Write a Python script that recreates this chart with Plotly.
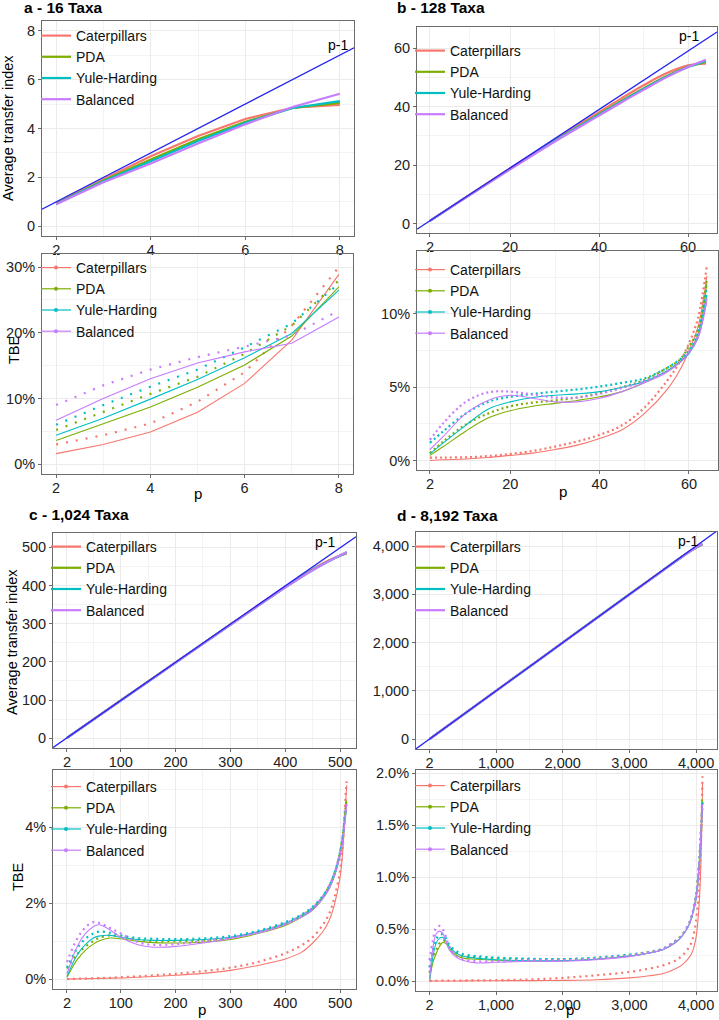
import plotly.graph_objects as go

W, H = 719, 1020
FONT = "Liberation Sans, Arial, sans-serif"
NAMES = ["Caterpillars", "PDA", "Yule-Harding", "Balanced"]
COLORS = ["#F8766D", "#7CAE00", "#00BFC4", "#C77CFF"]

# ---------------- a - 16 taxa ----------------
P_A = [2, 3, 4, 5, 6, 7, 8]
ATI_A_CAT = [0.93, 1.92, 2.86, 3.69, 4.39, 4.85, 4.97]
ATI_A_PDA = [0.92, 1.87, 2.73, 3.56, 4.27, 4.84, 5.05]
ATI_A_YH = [0.91, 1.84, 2.66, 3.49, 4.23, 4.84, 5.12]
ATI_A_BAL = [0.90, 1.80, 2.57, 3.39, 4.17, 4.88, 5.42]
TBE_A_CAT = [1.6, 3.0, 4.9, 7.9, 12.3, 18.9, 28.9]
TBE_A_PDA = [3.6, 6.1, 8.7, 11.7, 15.1, 19.5, 27.0]
TBE_A_YH = [4.4, 7.0, 9.9, 12.9, 16.2, 19.9, 26.5]
TBE_A_BAL = [6.7, 10.0, 13.0, 15.4, 17.1, 18.4, 22.4]
TBE2_A_CAT = [3.0, 4.4, 6.2, 9.5, 14.0, 21.1, 30.0]
TBE2_A_PDA = [5.2, 8.0, 10.7, 13.3, 16.8, 21.1, 28.0]
TBE2_A_YH = [6.0, 9.0, 11.8, 14.4, 17.8, 21.4, 27.5]
TBE2_A_BAL = [9.0, 12.0, 14.4, 16.3, 17.9, 19.6, 23.4]

# ---------------- b - 128 taxa ----------------
P_B_TOP = [2, 10, 20, 30, 40, 45, 50, 55, 60, 64]
ATI_B_CAT = [0.95, 8.95, 18.85, 28.6, 38.1, 42.8, 47.3, 51.3, 54.1, 54.7]
ATI_B_PDA = [0.94, 8.9, 18.7, 28.3, 37.4, 41.9, 46.2, 50.3, 53.6, 55.3]
ATI_B_YH = [0.94, 8.9, 18.65, 28.2, 37.2, 41.7, 46.0, 50.1, 53.5, 55.6]
ATI_B_BAL = [0.93, 8.85, 18.55, 28.0, 36.9, 41.4, 45.7, 49.9, 53.5, 56.0]
P_B = [2, 5, 10, 15, 20, 25, 30, 35, 40, 45, 50, 55, 58, 60, 62, 64]
TBE_B_CAT = [0.0, 0.05, 0.1, 0.2, 0.35, 0.5, 0.75, 1.05, 1.5, 2.1, 3.2, 4.8, 6.2, 7.5, 9.1, 12.6]
TBE_B_PDA = [0.35, 0.95, 2.0, 2.9, 3.4, 3.7, 3.9, 4.1, 4.35, 4.7, 5.3, 6.1, 6.75, 7.4, 8.6, 12.1]
TBE_B_YH = [0.45, 1.2, 2.4, 3.5, 4.0, 4.3, 4.45, 4.55, 4.7, 5.0, 5.4, 6.1, 6.7, 7.3, 8.35, 11.3]
TBE_B_BAL = [0.75, 1.65, 3.2, 4.1, 4.45, 4.25, 4.0, 4.0, 4.25, 4.7, 5.3, 6.0, 6.7, 7.4, 8.35, 10.9]
TBE2_B_CAT = [0.2, 0.2, 0.22, 0.3, 0.45, 0.65, 0.95, 1.3, 1.75, 2.4, 3.6, 5.4, 6.75, 8.0, 9.7, 13.3]
TBE2_B_PDA = [0.5, 1.3, 2.45, 3.2, 3.7, 3.95, 4.1, 4.3, 4.6, 5.0, 5.5, 6.3, 6.9, 7.8, 8.9, 12.4]
TBE2_B_YH = [1.2, 2.0, 3.2, 4.0, 4.35, 4.55, 4.7, 4.85, 5.05, 5.3, 5.6, 6.3, 6.9, 7.5, 8.7, 11.9]
TBE2_B_BAL = [1.4, 2.55, 4.0, 4.65, 4.7, 4.5, 4.3, 4.3, 4.55, 4.95, 5.4, 6.1, 6.75, 7.4, 8.45, 11.2]

# ---------------- c - 1,024 taxa ----------------
P_C_TOP = [2, 100, 200, 300, 400, 430, 460, 480, 500, 512]
ATI_C_CAT = [1, 99, 198.5, 298, 396.5, 425, 451, 466, 478, 484]
ATI_C_PDA = [1, 98.8, 198.2, 297.5, 395.5, 423.5, 449.5, 465, 478.5, 486]
ATI_C_YH = [1, 98.7, 198, 297.3, 395.2, 423, 449, 464.5, 478.5, 487]
ATI_C_BAL = [1, 98.5, 197.8, 297, 395, 422.5, 448.5, 464.5, 479, 488]
P_C = [2, 20, 35, 50, 60, 80, 100, 130, 160, 200, 250, 300, 350, 400, 430, 450, 470, 480, 490, 500, 505, 510, 512]
TBE_C_CAT = [0, 0.005, 0.01, 0.015, 0.02, 0.025, 0.03, 0.05, 0.07, 0.1, 0.15, 0.23, 0.36, 0.53, 0.71, 0.95, 1.28, 1.54, 1.98, 2.68, 3.4, 4.6, 5.1]
TBE_C_PDA = [0.05, 0.5, 0.75, 0.92, 1.0, 1.08, 1.06, 1.0, 0.96, 0.95, 0.97, 1.04, 1.2, 1.41, 1.63, 1.82, 2.15, 2.38, 2.73, 3.3, 3.74, 4.4, 4.7]
TBE_C_YH = [0.07, 0.62, 0.9, 1.08, 1.13, 1.15, 1.1, 1.04, 1.02, 1.02, 1.04, 1.1, 1.24, 1.46, 1.67, 1.85, 2.18, 2.4, 2.73, 3.27, 3.7, 4.3, 4.45]
TBE_C_BAL = [0.14, 0.84, 1.19, 1.38, 1.43, 1.3, 1.1, 0.91, 0.84, 0.86, 0.95, 1.07, 1.21, 1.43, 1.63, 1.82, 2.15, 2.38, 2.73, 3.25, 3.67, 4.3, 4.6]
TBE2_C_CAT = [0, 0.01, 0.015, 0.02, 0.025, 0.035, 0.05, 0.07, 0.1, 0.14, 0.21, 0.3, 0.45, 0.68, 0.89, 1.1, 1.46, 1.72, 2.16, 2.86, 3.56, 4.8, 5.2]
TBE2_C_PDA = [0.28, 0.65, 0.85, 1.0, 1.08, 1.15, 1.12, 1.05, 1.0, 1.0, 1.02, 1.08, 1.24, 1.45, 1.67, 1.87, 2.2, 2.45, 2.8, 3.35, 3.8, 4.5, 4.75]
TBE2_C_YH = [0.3, 0.8, 1.05, 1.2, 1.25, 1.22, 1.15, 1.08, 1.06, 1.05, 1.07, 1.13, 1.27, 1.5, 1.7, 1.9, 2.22, 2.45, 2.8, 3.35, 3.78, 4.4, 4.5]
TBE2_C_BAL = [0.45, 1.05, 1.35, 1.5, 1.48, 1.35, 1.2, 0.98, 0.9, 0.92, 1.0, 1.1, 1.24, 1.47, 1.68, 1.88, 2.2, 2.45, 2.8, 3.33, 3.75, 4.4, 4.6]

# ---------------- d - 8,192 taxa ----------------
P_D_TOP = [2, 1000, 2000, 3000, 3500, 3800, 3950, 4096]
ATI_D_CAT = [1, 999, 1998, 2996, 3493, 3788, 3925, 4030]
ATI_D_PDA = [1, 999, 1998, 2996, 3492, 3787, 3926, 4038]
ATI_D_YH = [1, 999, 1998, 2996, 3492, 3787, 3926, 4040]
ATI_D_BAL = [1, 998, 1997, 2995, 3491, 3786, 3927, 4045]
P_D = [2, 50, 100, 150, 200, 250, 300, 400, 500, 700, 1000, 1500, 2000, 2500, 3000, 3300, 3500, 3700, 3800, 3900, 3950, 4000, 4050, 4080, 4096]
TBE_D_CAT = [0, 0, 0, 0, 0, 0, 0, 0, 0.001, 0.002, 0.003, 0.004, 0.006, 0.012, 0.03, 0.05, 0.07, 0.12, 0.16, 0.23, 0.29, 0.42, 0.78, 1.32, 1.9]
TBE_D_PDA = [0, 0.17, 0.26, 0.33, 0.37, 0.36, 0.31, 0.25, 0.22, 0.21, 0.2, 0.19, 0.195, 0.21, 0.24, 0.27, 0.3, 0.375, 0.44, 0.55, 0.65, 0.81, 1.16, 1.51, 1.75]
TBE_D_YH = [0, 0.22, 0.36, 0.41, 0.42, 0.38, 0.33, 0.27, 0.24, 0.22, 0.205, 0.195, 0.195, 0.21, 0.24, 0.27, 0.3, 0.375, 0.44, 0.55, 0.65, 0.8, 1.15, 1.5, 1.72]
TBE_D_BAL = [0, 0.3, 0.45, 0.48, 0.46, 0.38, 0.3, 0.23, 0.2, 0.175, 0.18, 0.19, 0.19, 0.205, 0.235, 0.27, 0.3, 0.375, 0.44, 0.55, 0.65, 0.8, 1.15, 1.5, 1.7]
TBE2_D_CAT = [0, 0.001, 0.002, 0.003, 0.003, 0.004, 0.004, 0.005, 0.005, 0.006, 0.008, 0.015, 0.03, 0.055, 0.087, 0.12, 0.15, 0.2, 0.25, 0.33, 0.41, 0.58, 0.97, 1.48, 1.97]
TBE2_D_PDA = [0.08, 0.2, 0.29, 0.36, 0.39, 0.38, 0.33, 0.27, 0.24, 0.23, 0.22, 0.21, 0.21, 0.22, 0.25, 0.28, 0.31, 0.39, 0.45, 0.56, 0.66, 0.83, 1.18, 1.53, 1.75]
TBE2_D_YH = [0.13, 0.28, 0.4, 0.44, 0.45, 0.41, 0.35, 0.29, 0.26, 0.24, 0.225, 0.215, 0.21, 0.225, 0.255, 0.28, 0.31, 0.39, 0.45, 0.56, 0.66, 0.82, 1.17, 1.52, 1.72]
TBE2_D_BAL = [0.2, 0.38, 0.51, 0.53, 0.5, 0.42, 0.33, 0.25, 0.21, 0.19, 0.19, 0.2, 0.2, 0.215, 0.245, 0.28, 0.31, 0.39, 0.45, 0.56, 0.66, 0.82, 1.17, 1.52, 1.7]

# tick labels
XT_A = [2, 4, 6, 8]
YT_A_TOP = [0, 2, 4, 6, 8]
YT_A_BOT = [0, 10, 20, 30]
XT_B = [2, 20, 40, 60]
YT_B_TOP = [0, 20, 40, 60]
YT_B_BOT = [0, 5, 10]
XT_C = [2, 100, 200, 300, 400, 500]
YT_C_TOP = [0, 100, 200, 300, 400, 500]
YT_C_BOT = [0, 2, 4]
XT_D = [2, 1000, 2000, 3000, 4000]
XT_D_TEXT = ["2", "1,000", "2,000", "3,000", "4,000"]
YT_D_TOP = [0, 1000, 2000, 3000, 4000]
YT_D_TOP_TEXT = ["0", "1,000", "2,000", "3,000", "4,000"]
YT_D_BOT = [0, 0.5, 1.0, 1.5, 2.0]
YT_D_BOT_TEXT = ["0.0%", "0.5%", "1.0%", "1.5%", "2.0%"]

panels = [
    dict(kind="top", px=(42, 354), py=(21, 236), xr=[1.7, 8.3], yr=[-0.4, 8.4],
         xt=XT_A, xtt=None, yt=YT_A_TOP, ytt=None, xm=[3, 5, 7], ym=[1, 3, 5, 7],
         x=P_A, ys=[ATI_A_CAT, ATI_A_PDA, ATI_A_YH, ATI_A_BAL], shape="linear",
         leg=(36, 20)),
    dict(kind="bot", px=(42, 353), py=(254, 474), xr=[1.7, 8.3], yr=[-1.5, 32],
         xt=XT_A, xtt=None, yt=YT_A_BOT, ytt=[f"{v}%" for v in YT_A_BOT], xm=[3, 5, 7], ym=[5, 15, 25],
         x=P_A, ys=[TBE_A_CAT, TBE_A_PDA, TBE_A_YH, TBE_A_BAL],
         ys2=[TBE2_A_CAT, TBE2_A_PDA, TBE2_A_YH, TBE2_A_BAL], shape="linear", dash="2px,8px",
         leg=(36, 252)),
    dict(kind="top", px=(417, 717), py=(27, 233), xr=[-0.9, 66.5], yr=[-3.2, 67.2],
         xt=XT_B, xtt=None, yt=YT_B_TOP, ytt=None, xm=[11, 30, 50], ym=[10, 30, 50],
         x=P_B_TOP, ys=[ATI_B_CAT, ATI_B_PDA, ATI_B_YH, ATI_B_BAL], shape="spline",
         leg=(410, 35)),
    dict(kind="bot", px=(417, 718), py=(251, 470), xr=[-0.9, 66.5], yr=[-0.65, 14.3],
         xt=XT_B, xtt=None, yt=YT_B_BOT, ytt=[f"{v}%" for v in YT_B_BOT], xm=[11, 30, 50], ym=[2.5, 7.5, 12.5],
         x=P_B, ys=[TBE_B_CAT, TBE_B_PDA, TBE_B_YH, TBE_B_BAL],
         ys2=[TBE2_B_CAT, TBE2_B_PDA, TBE2_B_YH, TBE2_B_BAL], shape="spline", dash="2px,3px",
         leg=(410, 254)),
    dict(kind="top", px=(53, 356), py=(533, 748), xr=[-23.5, 529], yr=[-25.6, 537.6],
         xt=XT_C, xtt=None, yt=YT_C_TOP, ytt=None, xm=[51, 150, 250, 350, 450], ym=[50, 150, 250, 350, 450],
         x=P_C_TOP, ys=[ATI_C_CAT, ATI_C_PDA, ATI_C_YH, ATI_C_BAL], shape="spline",
         leg=(46, 531)),
    dict(kind="bot", px=(53, 356), py=(770, 989), xr=[-23.5, 529], yr=[-0.26, 5.5],
         xt=XT_C, xtt=None, yt=YT_C_BOT, ytt=[f"{v}%" for v in YT_C_BOT], xm=[51, 150, 250, 350, 450], ym=[1, 3, 5],
         x=P_C, ys=[TBE_C_CAT, TBE_C_PDA, TBE_C_YH, TBE_C_BAL],
         ys2=[TBE2_C_CAT, TBE2_C_PDA, TBE2_C_YH, TBE2_C_BAL], shape="spline", dash="2px,4px",
         leg=(46, 771)),
    dict(kind="top", px=(416, 717), py=(532, 749), xr=[-200, 4314], yr=[-205, 4290],
         xt=XT_D, xtt=XT_D_TEXT, yt=YT_D_TOP, ytt=YT_D_TOP_TEXT, xm=[501, 1500, 2500, 3500], ym=[500, 1500, 2500, 3500],
         x=P_D_TOP, ys=[ATI_D_CAT, ATI_D_PDA, ATI_D_YH, ATI_D_BAL], shape="spline",
         leg=(410, 531)),
    dict(kind="bot", px=(416, 717), py=(770, 991), xr=[-200, 4314], yr=[-0.096, 2.03],
         xt=XT_D, xtt=XT_D_TEXT, yt=YT_D_BOT, ytt=YT_D_BOT_TEXT, xm=[501, 1500, 2500, 3500], ym=[0.25, 0.75, 1.25, 1.75],
         x=P_D, ys=[TBE_D_CAT, TBE_D_PDA, TBE_D_YH, TBE_D_BAL],
         ys2=[TBE2_D_CAT, TBE2_D_PDA, TBE2_D_YH, TBE2_D_BAL], shape="spline", dash="2px,4px",
         leg=(410, 770)),
]

fig = go.Figure()
layout = {}
GRID = "#EBEBEB"
BORDER = "#6b6b6b"

for i, p in enumerate(panels, start=1):
    sfx = "" if i == 1 else str(i)
    xa, ya = "x" + sfx, "y" + sfx
    lg = "legend" + sfx
    common = dict(showline=True, mirror=True, linecolor=BORDER, linewidth=1,
                  showgrid=True, gridcolor=GRID, gridwidth=1, zeroline=False,
                  ticks="outside", ticklen=3, tickcolor=BORDER, tickwidth=1, automargin=False,
                  tickfont=dict(family=FONT, size=14.5, color="#222"))
    layout["xaxis" + sfx] = dict(common, domain=[p["px"][0] / W, p["px"][1] / W], anchor=ya,
                                 range=p["xr"], tickmode="array", tickvals=p["xt"], ticklabelstandoff=-2,
                                 ticktext=p["xtt"] if p["xtt"] else [str(v) for v in p["xt"]],
                                 minor=dict(tickmode="array", tickvals=p["xm"], showgrid=True,
                                            gridcolor="#F3F3F3", gridwidth=0.6, ticks=""))
    layout["yaxis" + sfx] = dict(common, domain=[1 - p["py"][1] / H, 1 - p["py"][0] / H], anchor=xa,
                                 range=p["yr"], tickmode="array", tickvals=p["yt"],
                                 ticktext=p["ytt"] if p["ytt"] else [str(v) for v in p["yt"]],
                                 minor=dict(tickmode="array", tickvals=p["ym"], showgrid=True,
                                            gridcolor="#F3F3F3", gridwidth=0.6, ticks=""))
    layout[lg] = dict(x=p["leg"][0] / W, y=1 - p["leg"][1] / H, xanchor="left", yanchor="top",
                      bgcolor="rgba(0,0,0,0)", borderwidth=0, tracegroupgap=0,
                      font=dict(family=FONT, size=14, color="#111"), traceorder="normal")

    if p["kind"] == "top":
        for name, col, yv in zip(NAMES, COLORS, p["ys"]):
            fig.add_trace(go.Scatter(x=p["x"], y=yv, mode="lines", name=name,
                                     line=dict(color=col, width=2.2, shape=p["shape"]),
                                     xaxis=xa, yaxis=ya, legend=lg, showlegend=True))
        # p-1 reference line across the panel range
        xl = list(p["xr"])
        fig.add_trace(go.Scatter(x=xl, y=[v - 1 for v in xl], mode="lines",
                                 line=dict(color="#2424F0", width=1.3),
                                 xaxis=xa, yaxis=ya, showlegend=False, hoverinfo="skip"))
    else:
        for name, col, yv, yv2 in zip(NAMES, COLORS, p["ys"], p["ys2"]):
            fig.add_trace(go.Scatter(x=p["x"], y=yv2, mode="lines",
                                     line=dict(color=col, width=2.2, dash=p["dash"], shape=p["shape"]),
                                     xaxis=xa, yaxis=ya, showlegend=False))
            fig.add_trace(go.Scatter(x=p["x"], y=yv, mode="lines",
                                     line=dict(color=col, width=1.1, shape=p["shape"]),
                                     xaxis=xa, yaxis=ya, showlegend=False))
        for name, col in zip(NAMES, COLORS):
            fig.add_trace(go.Scatter(x=[None], y=[None], mode="lines+markers", name=name,
                                     line=dict(color=col, width=1.2), marker=dict(color=col, size=4),
                                     xaxis=xa, yaxis=ya, legend=lg, showlegend=True))

ann = []
def text(x, y, s, size=14, bold=False, angle=0, xanchor="center"):
    ann.append(dict(x=x / W, y=1 - y / H, xref="paper", yref="paper", text=f"<b>{s}</b>" if bold else s,
                    showarrow=False, xanchor=xanchor, yanchor="middle", textangle=angle,
                    font=dict(family=FONT, size=size, color="#000")))

text(22, 8, "a - 16 Taxa", 15.5, True, xanchor="left")
text(395, 8, "b - 128 Taxa", 15.5, True, xanchor="left")
text(27, 514, "c - 1,024 Taxa", 15.5, True, xanchor="left")
text(395, 515, "d - 8,192 Taxa", 15.5, True, xanchor="left")
text(8, 128, "Average transfer index", 14.5, angle=-90)
text(14, 350, "TBE", 14.5, angle=-90)
text(12, 642, "Average transfer index", 14.5, angle=-90)
text(18, 877, "TBE", 14.5, angle=-90)
text(198, 493, "p", 15)
text(563, 491, "p", 15)
text(202, 1009, "p", 15)
text(570, 1009, "p", 15)
text(338, 45, "p-1", 14)
text(689, 36, "p-1", 14)
text(325, 542, "p-1", 14)
text(688, 541, "p-1", 14)

fig.update_layout(width=W, height=H, margin=dict(l=0, r=0, t=0, b=0, autoexpand=False),
                  paper_bgcolor="white", plot_bgcolor="white",
                  font=dict(family=FONT), annotations=ann, **layout)

fig.write_html("out.html", config={"displayModeBar": False},
               post_script="document.body.style.margin='0';document.body.style.overflow='hidden';")
